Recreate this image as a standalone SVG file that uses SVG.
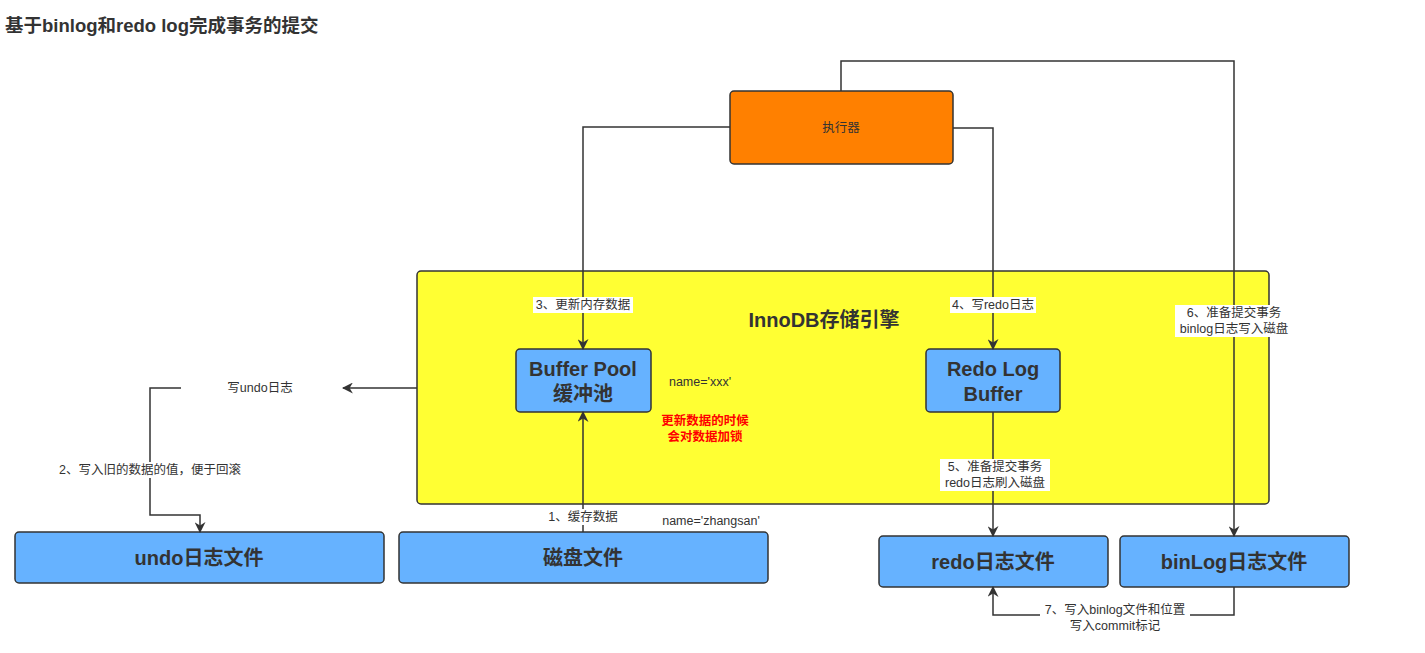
<svg xmlns="http://www.w3.org/2000/svg" width="1425" height="653" viewBox="0 0 1425 653">
<defs>
<marker id="ar" viewBox="0 0 10 10" refX="9" refY="5" markerWidth="11" markerHeight="11" orient="auto" markerUnits="userSpaceOnUse"><path d="M0,0 L10,5 L0,10 L3,5 Z" fill="#333"/></marker>
<style>
text{font-family:"Liberation Sans","Noto Sans CJK SC",sans-serif;fill:#333}
.box{stroke:#333;stroke-width:1.5}
.blue{fill:#66B2FF}
.big{font-size:20px;font-weight:bold;text-anchor:middle}
.sm{font-size:12.5px;text-anchor:middle}
.ln{fill:none;stroke:#333;stroke-width:1.5;marker-end:url(#ar)}
.lb{fill:#fff}
</style>
</defs>
<rect width="1425" height="653" fill="#fff"/>
<text x="5" y="32" style="font-size:18.5px;font-weight:bold">基于binlog和redo log完成事务的提交</text>
<g id="innodb"><rect class="box" x="417" y="271" width="852" height="233" rx="4" fill="#FFFF33"/><text class="big" x="824" y="327">InnoDB存储引擎</text></g>
<g id="executor"><rect class="box" x="730" y="91" width="223" height="73" rx="4" fill="#FF8000"/><text class="sm" x="841" y="132">执行器</text></g>
<g id="bufferpool"><rect class="box blue" x="516" y="349" width="135" height="63" rx="4"/><text class="big" x="583" y="376">Buffer Pool</text><text class="big" x="583" y="401">缓冲池</text></g>
<g id="redobuffer"><rect class="box blue" x="926" y="349" width="134" height="63" rx="4"/><text class="big" x="993" y="376">Redo Log</text><text class="big" x="993" y="401">Buffer</text></g>
<g id="undo"><rect class="box blue" x="15" y="532" width="369" height="51" rx="4"/><text class="big" x="199" y="565">undo日志文件</text></g>
<g id="disk"><rect class="box blue" x="399" y="532" width="369" height="51" rx="4"/><text class="big" x="583" y="565">磁盘文件</text></g>
<g id="redofile"><rect class="box blue" x="879" y="536" width="229" height="51" rx="4"/><text class="big" x="993" y="569">redo日志文件</text></g>
<g id="binlogfile"><rect class="box blue" x="1120" y="536" width="229" height="51" rx="4"/><text class="big" x="1234" y="569">binLog日志文件</text></g>
<g id="connectors">
<path class="ln" d="M730,127 H583 V349"/>
<path class="ln" d="M953,128 H993 V349"/>
<path class="ln" d="M841,91 V61 H1234 V536"/>
<path class="ln" d="M583,532 V412"/>
<path class="ln" d="M417,388 H343"/>
<path class="ln" d="M181,388 H150 V515 H200 V532"/>
<path class="ln" d="M993,412 V536"/>
<path class="ln" d="M1234,587 V615 H993 V587"/>
<rect class="lb" x="533" y="297" width="100" height="16"/><text class="sm" x="583" y="309">3、更新内存数据</text>
<rect class="lb" x="950" y="297" width="86" height="16"/><text class="sm" x="993" y="309">4、写redo日志</text>
<rect class="lb" x="1175" y="305" width="118" height="32"/><text class="sm" x="1234" y="317">6、准备提交事务</text><text class="sm" x="1234" y="333">binlog日志写入磁盘</text>
<rect class="lb" x="545" y="509" width="76" height="16"/><text class="sm" x="583" y="521">1、缓存数据</text>
<text class="sm" x="260" y="392">写undo日志</text>
<rect class="lb" x="55" y="462" width="190" height="16"/><text class="sm" x="150" y="474">2、写入旧的数据的值，便于回滚</text>
<rect class="lb" x="940" y="459" width="110" height="32"/><text class="sm" x="995" y="471">5、准备提交事务</text><text class="sm" x="995" y="487">redo日志刷入磁盘</text>
<rect class="lb" x="1040" y="602" width="150" height="30"/><text class="sm" x="1115" y="614">7、写入binlog文件和位置</text><text class="sm" x="1115" y="630">写入commit标记</text>
</g>
<text class="sm" x="700" y="386">name='xxx'</text>
<text class="sm" x="711" y="525">name='zhangsan'</text>
<text class="sm" x="705" y="425" style="fill:#FF0000;font-weight:bold">更新数据的时候</text>
<text class="sm" x="705" y="441" style="fill:#FF0000;font-weight:bold">会对数据加锁</text>
</svg>
